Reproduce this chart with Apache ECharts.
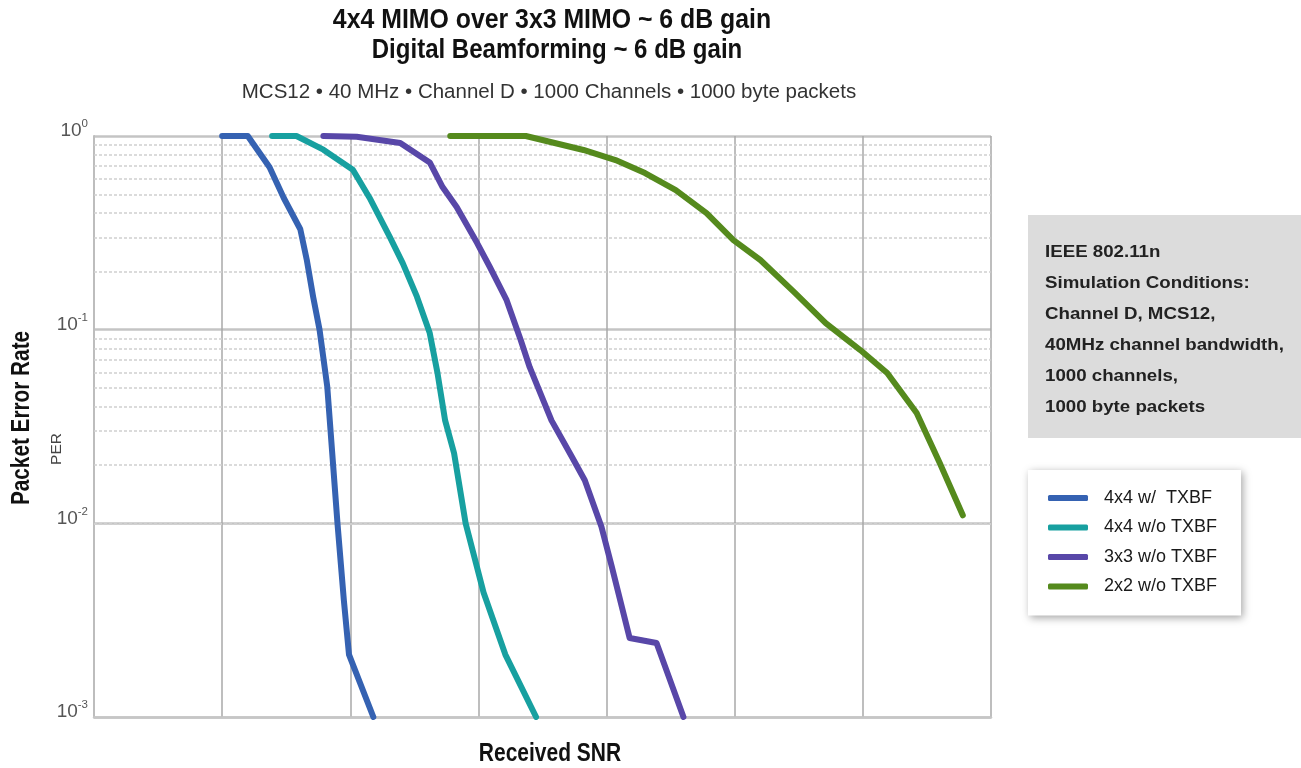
<!DOCTYPE html>
<html><head><meta charset="utf-8">
<script src="https://cdn.jsdelivr.net/npm/echarts@6/dist/echarts.min.js"></script>
<style>html,body{margin:0;padding:0;background:#fff}#c{width:1301px;height:768px}</style>
</head><body><div id="c"></div><script>
// ---- data (x = received SNR in grid units, y = packet error rate) ----
const seriesNames = ['4x4 w/  TXBF', '4x4 w/o TXBF', '3x3 w/o TXBF', '2x2 w/o TXBF'];
const snrBlue   = [1.00, 1.20, 1.37, 1.48, 1.61, 1.66, 1.71, 1.76, 1.82, 1.84, 1.90, 1.95, 1.99, 2.18];
const perBlue   = [1, 1, 0.69, 0.48, 0.33, 0.23, 0.148, 0.10, 0.051, 0.034, 0.010, 0.0040, 0.0021, 0.001];
const snrTeal   = [1.39, 1.58, 1.79, 2.02, 2.15, 2.31, 2.41, 2.52, 2.62, 2.68, 2.74, 2.81, 2.90, 3.04, 3.21, 3.45];
const perTeal   = [1, 1, 0.85, 0.67, 0.48, 0.30, 0.22, 0.148, 0.096, 0.060, 0.034, 0.023, 0.010, 0.0044, 0.0021, 0.001];
const snrPurple = [1.79, 2.05, 2.39, 2.62, 2.72, 2.83, 2.99, 3.09, 3.22, 3.33, 3.40, 3.57, 3.73, 3.83, 3.96, 4.04, 4.18, 4.39, 4.60];
const perPurple = [1, 0.99, 0.92, 0.73, 0.545, 0.43, 0.28, 0.21, 0.142, 0.0885, 0.064, 0.034, 0.022, 0.0167, 0.0096, 0.0060, 0.00256, 0.00241, 0.001];
const snrGreen  = [2.78, 3.37, 3.82, 4.07, 4.30, 4.54, 4.78, 4.99, 5.20, 5.47, 5.71, 5.98, 6.19, 6.42, 6.60, 6.78];
const perGreen  = [1, 1, 0.847, 0.751, 0.644, 0.526, 0.40, 0.29, 0.229, 0.155, 0.108, 0.0785, 0.0597, 0.0371, 0.0205, 0.011];
const decades = [0.001, 0.01, 0.1];
const minorMult = [2, 3, 4, 5, 6, 7, 8, 9];
const titleLines = ['4x4 MIMO over 3x3 MIMO ~ 6 dB gain', 'Digital Beamforming ~ 6 dB gain'];
const subTitle = 'MCS12 \u2022 40 MHz \u2022 Channel D \u2022 1000 Channels \u2022 1000 byte packets';
const infoLines = ['IEEE 802.11n', 'Simulation Conditions:', 'Channel D, MCS12,', '40MHz channel bandwidth,', '1000 channels,', '1000 byte packets'];
const xAxisTitle = 'Received SNR';
const yAxisTitle = 'Packet Error Rate';
const yAxisSub = 'PER';

const colors = ['#3562b2', '#17a0a0', '#5847a8', '#558a1d'];
const zip = (xs, ys) => xs.map((x, i) => [x, ys[i]]);
const allData = [zip(snrBlue, perBlue), zip(snrTeal, perTeal), zip(snrPurple, perPurple), zip(snrGreen, perGreen)];

const minorLines = [];
decades.forEach(d => minorMult.forEach(m => minorLines.push({ yAxis: +(d * m).toPrecision(3) })));

const SANS = "'Liberation Sans', Arial, sans-serif";
const chart = echarts.init(document.getElementById('c'));
const series = [{
  type: 'line', name: '_minor', data: [], silent: true, z: 1,
  markLine: { silent: true, symbol: 'none', label: { show: false },
    lineStyle: { color: '#cfcfcf', type: [3, 2], width: 1.5 }, data: minorLines, animation: false }
}];
allData.forEach((d, i) => series.push({
  type: 'line', name: seriesNames[i], data: d, showSymbol: false, symbol: 'none', z: 5,
  lineStyle: { color: colors[i], width: 6, cap: 'round', join: 'round' },
  itemStyle: { color: colors[i] }
}));

chart.setOption({
  animation: false,
  backgroundColor: '#ffffff',
  grid: { left: 94, right: 310, top: 136, bottom: 51, containLabel: false, outerBoundsMode: 'none' },
  xAxis: {
    type: 'value', min: 0, max: 7, interval: 1,
    axisLabel: { show: false }, axisTick: { show: false },
    axisLine: { show: true, lineStyle: { color: '#c6c6c6', width: 2.5 } },
    splitLine: { show: true, lineStyle: { color: '#a8a8a8', width: 1.5 } }
  },
  yAxis: {
    type: 'log', logBase: 10, min: 0.001, max: 1,
    axisTick: { show: false },
    axisLine: { show: true, lineStyle: { color: '#bdbdbd', width: 2 } },
    splitLine: { show: true, lineStyle: { color: '#c4c4c4', width: 2.5 } },
    axisLabel: {
      margin: 6, padding: [0, 0, 10, 0],
      formatter: v => '{b|10}{s|' + Math.round(Math.log10(v)) + '}',
      rich: {
        b: { fontFamily: SANS, fontSize: 19, color: '#555', lineHeight: 26 },
        s: { fontFamily: SANS, fontSize: 11.5, color: '#555', lineHeight: 12, verticalAlign: 'top' }
      }
    }
  },
  legend: {
    data: seriesNames, orient: 'vertical', left: 1028, top: 470,
    icon: 'roundRect', itemWidth: 40, itemHeight: 6, itemGap: 11.5,
    backgroundColor: '#ffffff', padding: [19, 24, 20, 20],
    shadowBlur: 8, shadowColor: 'rgba(0,0,0,0.35)', shadowOffsetX: 2, shadowOffsetY: 2,
    textStyle: { fontFamily: SANS, fontSize: 18, color: '#1a1a1a', padding: [0, 0, 0, 11] }
  },
  series: series,
  graphic: [
    { type: 'text', x: 552, y: 21, scaleX: 0.92, style: { text: titleLines[0], x: 0, y: 0, textAlign: 'center', textVerticalAlign: 'middle',
      font: "bold 27px " + SANS, fill: '#111' } },
    { type: 'text', x: 557, y: 51, scaleX: 0.89, style: { text: titleLines[1], x: 0, y: 0, textAlign: 'center', textVerticalAlign: 'middle',
      font: "bold 27px " + SANS, fill: '#111' } },
    { type: 'text', x: 549, y: 92, style: { text: subTitle, x: 0, y: 0, textAlign: 'center', textVerticalAlign: 'middle',
      font: "20.5px " + SANS, fill: '#333' } },
    { type: 'text', x: 550, y: 754, scaleX: 0.84, style: { text: xAxisTitle, x: 0, y: 0, textAlign: 'center', textVerticalAlign: 'middle',
      font: "bold 25px " + SANS, fill: '#111' } },
    { type: 'text', rotation: Math.PI / 2, x: 22, y: 418, scaleX: 0.83, style: { text: yAxisTitle, textAlign: 'center', textVerticalAlign: 'middle',
      font: "bold 25px " + SANS, fill: '#111' } },
    { type: 'text', rotation: Math.PI / 2, x: 57, y: 449, style: { text: yAxisSub, textAlign: 'center', textVerticalAlign: 'middle',
      font: "15.5px " + SANS, fill: '#444' } },
    { type: 'rect', shape: { x: 1028, y: 215, width: 273, height: 223 }, style: { fill: '#dcdcdc' } },
    { type: 'text', x: 1045, y: 237, scaleX: 1.1, style: { text: infoLines.join('\n'), x: 0, y: 0, font: "bold 17px " + SANS, lineHeight: 31, fill: '#222' } }
  ]
});
</script></body></html>
